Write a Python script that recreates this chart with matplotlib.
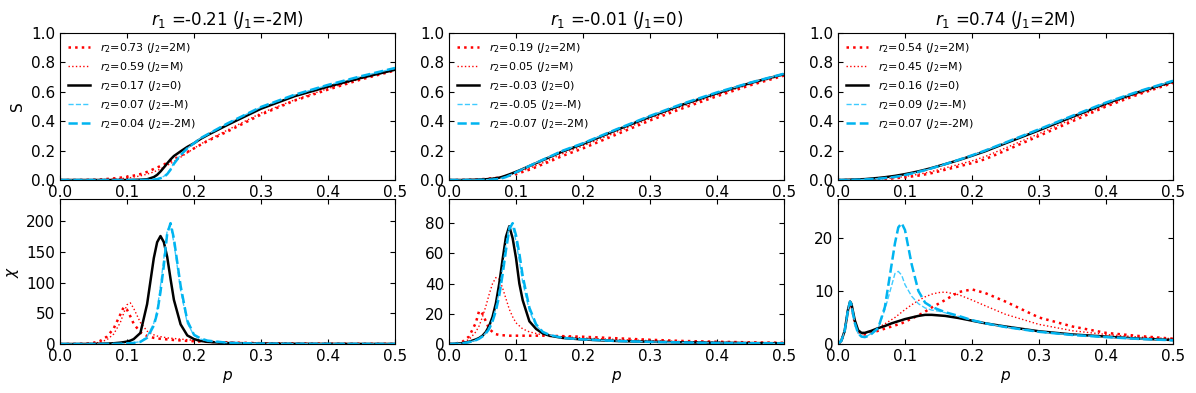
import numpy as np
import matplotlib
matplotlib.use('Agg')
from matplotlib import pyplot as plt

# p grids (one per column)
p1 = [0, .02, .04, .05, .06, .07, .08, .09, .095, .10, .105, .11, .12, .13, .14, .145,
      .15, .155, .16, .165, .17, .18, .19, .20, .21, .22, .25, .30, .35, .40, .45, .50]
p2 = [0, .01, .02, .03, .04, .045, .05, .055, .06, .065, .07, .075, .08, .085, .09, .095,
      .10, .105, .11, .12, .13, .14, .15, .17, .2, .25, .3, .35, .4, .45, .5]
p3 = [0, .005, .01, .015, .018, .02, .025, .03, .035, .04, .045, .05, .06, .07, .08, .085,
      .09, .095, .10, .11, .12, .13, .14, .15, .16, .18, .2, .22, .25, .3, .35, .4, .45, .5]

# column 1: r1=-0.21 (J1=-2M)
s1_2M = [0, 0, .001, .002, .004, .007, .011, .016, .019, .022, .026, .03, .04, .055, .075, .085,
         .095, .105, .118, .13, .14, .165, .19, .215, .24, .265, .33, .445, .54, .615, .685, .745]
s1_M = [0, 0, 0, .001, .002, .004, .006, .009, .011, .013, .016, .02, .028, .04, .055, .065,
        .075, .087, .1, .112, .125, .155, .185, .215, .245, .27, .34, .455, .545, .622, .69, .75]
s1_0 = [0, 0, 0, 0, 0, 0, 0, 0, 0, 0, 0, .001, .002, .005, .02, .035,
        .058, .085, .113, .14, .163, .195, .225, .25, .28, .305, .375, .485, .57, .635, .695, .75]
s1_mM = [0, 0, 0, 0, 0, 0, 0, 0, 0, 0, 0, 0, 0, .001, .003, .007,
         .015, .025, .045, .075, .115, .17, .215, .25, .285, .31, .385, .495, .578, .645, .705, .76]
s1_m2M = [0, 0, 0, 0, 0, 0, 0, 0, 0, 0, 0, 0, 0, .001, .003, .006,
          .012, .02, .04, .07, .11, .17, .215, .25, .285, .31, .385, .497, .58, .647, .707, .762]

c1_2M = [0, .1, .8, 2, 5, 12, 25, 48, 60, 56, 45, 33, 19, 13, 10, 9,
         8.5, 8, 7.5, 7, 6.5, 5.8, 5, 4.5, 4, 3.5, 2.5, 1.3, .8, .5, .35, .25]
c1_M = [0, .05, .4, 1, 3, 7, 16, 35, 50, 64, 67, 58, 35, 21, 15, 13,
        12, 11, 10, 9.5, 9, 8, 7, 6, 5, 4.5, 3, 1.5, .9, .6, .4, .3]
c1_0 = [0, 0, .1, .2, .4, .7, 1.2, 2.2, 3, 4, 5.5, 8, 18, 65, 140, 166,
        176, 166, 142, 106, 72, 32, 14, 8, 5, 3.5, 1.5, .6, .3, .2, .1, .1]
c1_mM = [0, 0, 0, .1, .1, .2, .3, .5, .7, 1, 1.4, 2, 4, 12, 34, 55,
         95, 140, 185, 193, 165, 88, 34, 14, 8, 5, 2, .7, .4, .25, .15, .1]
c1_m2M = [0, 0, 0, .1, .1, .2, .3, .5, .7, 1, 1.3, 1.8, 3.5, 10, 30, 50,
          85, 128, 180, 197, 172, 95, 38, 15, 9, 5.5, 2, .7, .4, .25, .15, .1]

# column 2: r1=-0.01 (J1=0)
s2_2M = [0, 0, .001, .002, .004, .005, .006, .008, .01, .012, .014, .017, .02, .024, .029, .034,
         .04, .047, .055, .07, .088, .107, .125, .165, .215, .31, .405, .49, .57, .645, .71]
s2_M = [0, 0, .001, .001, .003, .004, .005, .007, .009, .011, .014, .018, .022, .027, .033, .04,
        .047, .055, .063, .08, .098, .117, .137, .18, .232, .325, .418, .503, .58, .652, .715]
s2_0 = [0, 0, 0, .001, .002, .003, .004, .005, .007, .009, .012, .016, .022, .03, .038, .047,
        .056, .065, .075, .095, .115, .135, .155, .195, .245, .34, .43, .515, .59, .66, .72]
s2_mM = [0, 0, 0, 0, .001, .001, .002, .002, .003, .004, .006, .009, .014, .021, .031, .041,
         .053, .064, .075, .097, .118, .139, .159, .2, .25, .345, .435, .52, .595, .662, .722]
s2_m2M = [0, 0, 0, 0, 0, .001, .001, .002, .002, .003, .005, .008, .013, .02, .03, .04,
          .052, .063, .074, .096, .117, .138, .158, .2, .25, .345, .436, .521, .596, .663, .723]

c2_2M = [0, .3, 1.5, 5, 14, 22, 20, 15, 10, 8, 6.5, 6, 5.8, 5.6, 5.5, 5.5,
         5.5, 5.5, 5.5, 5.5, 5.5, 5.5, 5.4, 5.2, 4.8, 3.8, 2.8, 2, 1.5, 1.1, .8]
c2_M = [0, .3, 1, 3, 8, 12, 18, 25, 33, 40, 44, 43, 37, 30, 23, 18,
        14, 12, 10, 8, 7, 6, 5.5, 4.8, 4, 3, 2.2, 1.6, 1.2, .9, .7]
c2_0 = [0, .2, .6, 1.5, 3, 4, 5.5, 8, 12, 18, 27, 40, 56, 71, 78, 70,
        57, 40, 29, 15, 10, 7, 5.5, 4, 3, 2, 1.5, 1.1, .8, .6, .5]
c2_mM = [0, .2, .5, 1.2, 2.5, 3.5, 5, 7.5, 11, 16, 24, 35, 50, 66, 78, 78,
         68, 55, 41, 22, 12, 8, 6, 4, 3, 2, 1.4, 1, .7, .5, .4]
c2_m2M = [0, .2, .5, 1.2, 2.5, 3.5, 5, 7, 10, 15, 22, 32, 46, 62, 76, 80,
          72, 60, 45, 24, 13, 8, 6, 4, 3, 2, 1.4, 1, .7, .5, .4]

# column 3: r1=0.74 (J1=2M)
s3_2M = [0, 0, 0, 0, 0, .001, .001, .001, .002, .002, .002, .003, .005, .007, .01, .012,
         .014, .016, .018, .024, .03, .038, .047, .058, .07, .092, .115, .142, .2, .3, .4, .5, .585, .66]
s3_M = [0, 0, 0, 0, .001, .001, .001, .002, .002, .003, .003, .004, .006, .009, .013, .016,
        .018, .021, .024, .031, .039, .048, .058, .07, .082, .106, .13, .16, .218, .315, .415, .508, .59, .663]
s3_0 = [0, 0, .001, .0015, .002, .0025, .003, .004, .005, .006, .008, .01, .014, .019, .025, .028,
        .032, .036, .04, .049, .059, .07, .082, .095, .108, .135, .165, .196, .25, .338, .43, .52, .6, .67]
s3_mM = [0, 0, 0, .001, .001, .001, .002, .002, .003, .004, .005, .006, .009, .013, .018, .021,
         .025, .029, .034, .044, .055, .067, .079, .093, .107, .136, .167, .2, .254, .344, .436, .526, .604, .674]
s3_m2M = [0, 0, 0, .001, .001, .001, .002, .002, .003, .004, .005, .006, .009, .013, .018, .021,
          .025, .029, .034, .044, .055, .067, .08, .094, .108, .137, .168, .201, .255, .345, .437, .527, .605, .675]

c3_2M = [0, .6, 2.5, 6.3, 7.7, 7.2, 4, 2.3, 1.8, 1.8, 1.9, 2.1, 2.5, 2.9, 3.3, 3.5,
         3.7, 3.9, 4.2, 4.8, 5.4, 6.1, 6.9, 7.6, 8.3, 9.8, 10.3, 9.6, 8.0, 5, 3.3, 2.1, 1.5, 1]
c3_M = [0, .6, 2.5, 6.3, 7.7, 7.2, 4, 2.3, 1.9, 2, 2.2, 2.5, 3.1, 3.8, 4.6, 5,
        5.5, 6, 6.5, 7.4, 8.2, 8.9, 9.4, 9.7, 9.8, 9.3, 8.3, 7.2, 5.6, 3.7, 2.5, 1.8, 1.3, 1]
c3_0 = [0, .6, 2.5, 6.5, 8, 7.6, 4.5, 2.6, 2.1, 2.1, 2.3, 2.5, 3, 3.4, 3.9, 4.1,
        4.3, 4.5, 4.7, 5, 5.3, 5.5, 5.5, 5.4, 5.3, 4.9, 4.4, 3.9, 3.3, 2.4, 1.8, 1.4, 1, .75]
c3_mM = [0, .6, 2.5, 6.5, 8, 7.4, 4, 2, 1.4, 1.3, 1.6, 2.1, 3, 6.5, 11, 13.3,
         13.7, 13, 11.2, 9, 7.6, 6.8, 6.4, 6.2, 5.9, 5.2, 4.5, 3.9, 3.2, 2.3, 1.7, 1.3, .95, .7]
c3_m2M = [0, .6, 2.5, 6.5, 8, 7.4, 4, 2, 1.4, 1.3, 1.5, 1.9, 3, 7, 15, 19,
          22, 22.8, 21.5, 15, 10, 7.8, 7, 6.5, 6, 5.3, 4.5, 3.9, 3.2, 2.3, 1.7, 1.3, .95, .7]

r1_vals = ['-0.21', '-0.01', '0.74']
J1_vals = ['-2M', '0', '2M']
r2_vals = [['0.73', '0.59', '0.17', '0.07', '0.04'],
           ['0.19', '0.05', '-0.03', '-0.05', '-0.07'],
           ['0.54', '0.45', '0.16', '0.09', '0.07']]
J2_vals = ['2M', 'M', '0', '-M', '-2M']
chi_tick_step = [50, 20, 10]

cols = [
    (p1, [s1_2M, s1_M, s1_0, s1_mM, s1_m2M], [c1_2M, c1_M, c1_0, c1_mM, c1_m2M]),
    (p2, [s2_2M, s2_M, s2_0, s2_mM, s2_m2M], [c2_2M, c2_M, c2_0, c2_mM, c2_m2M]),
    (p3, [s3_2M, s3_M, s3_0, s3_mM, s3_m2M], [c3_2M, c3_M, c3_0, c3_mM, c3_m2M]),
]

styles = [dict(color='red', ls=':', lw=1.8),
          dict(color='red', ls=':', lw=1.0),
          dict(color='black', ls='-', lw=1.8),
          dict(color='#3fcbff', ls='--', lw=1.0),
          dict(color='#00b4f0', ls='--', lw=1.8)]

fig = plt.figure(figsize=(11.96, 3.93), dpi=100)
lefts = [60 / 1196, 449 / 1196, 838 / 1196]
w = 335 / 1196

def style_ax(ax):
    ax.tick_params(direction='in', top=True, right=True, labelsize=11)
    ax.set_xlim(0, 0.5)
    ax.set_xticks(np.arange(0, 0.51, 0.1))

for i, (p, S, C) in enumerate(cols):
    ax = fig.add_axes([lefts[i], (393 - 180) / 393, w, 147 / 393])
    for k in range(5):
        ax.plot(p, S[k], label=f'$r_2$={r2_vals[i][k]} ($J_2$={J2_vals[k]})', **styles[k])
    style_ax(ax)
    ax.set_ylim(0, 1)
    ax.set_yticks(np.arange(0, 1.01, 0.2))
    ax.set_title(f'$r_1$ ={r1_vals[i]} ($J_1$={J1_vals[i]})', fontsize=12)
    ax.legend(loc='upper left', frameon=False, fontsize=8, handlelength=2.0,
              handletextpad=0.9, labelspacing=0.45, borderaxespad=0.3)
    if i == 0:
        ax.set_ylabel('S', fontsize=11)

    ax2 = fig.add_axes([lefts[i], (393 - 344) / 393, w, 145 / 393])
    for k in range(5):
        ax2.plot(p, C[k], **styles[k])
    style_ax(ax2)
    top = 1.2 * max(max(c) for c in C)
    ax2.set_ylim(0, top)
    ax2.set_yticks(np.arange(0, top, chi_tick_step[i]))
    ax2.set_xlabel('$p$', fontsize=11)
    if i == 0:
        ax2.set_ylabel(r'$\chi$', fontsize=11)

fig.savefig('out.png', dpi=100)
